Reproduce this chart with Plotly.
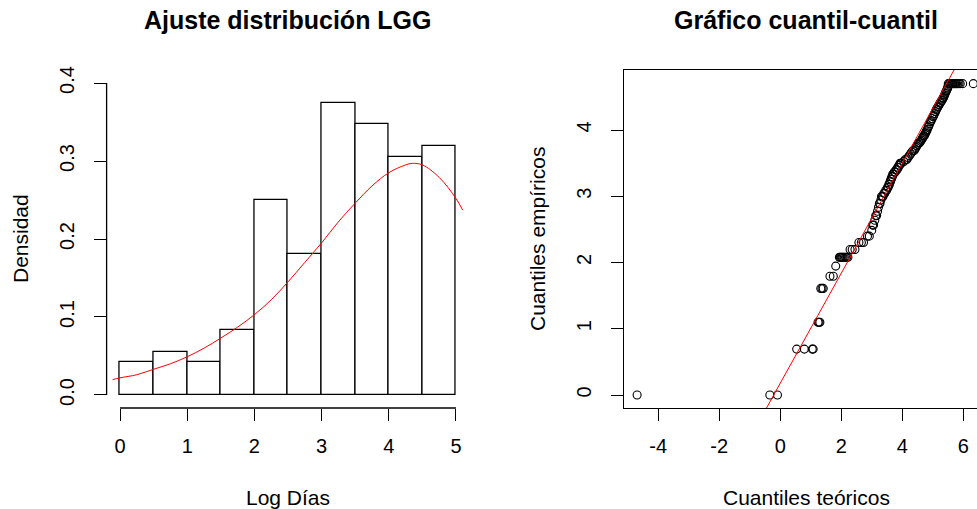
import plotly.graph_objects as go

# ---------------- data ----------------
# histogram (Log Días), bin edges and densities
bin_edges = [0.0, 0.5, 1.0, 1.5, 2.0, 2.5, 3.0, 3.5, 4.0, 4.5, 5.0]
densities = [0.0417, 0.0556, 0.0417, 0.0833, 0.25, 0.1806, 0.375, 0.3472, 0.3056, 0.3194]

# fitted LGG density curve
curve_x = [-0.11, 0.0, 0.25, 0.5, 0.75, 1.0, 1.25, 1.5, 1.75, 2.0, 2.25, 2.5, 2.75,
           3.0, 3.25, 3.5, 3.75, 4.0, 4.25, 4.35, 4.5, 4.75, 5.0, 5.1]
curve_y = [0.0197, 0.022, 0.026, 0.033, 0.040, 0.049, 0.060, 0.073, 0.087, 0.103, 0.122,
           0.145, 0.170, 0.195, 0.222, 0.246, 0.268, 0.285, 0.295, 0.297, 0.295, 0.279,
           0.252, 0.237]

# QQ plot: theoretical quantiles and empirical quantiles
qq_theo = [
    -4.69, -0.34, -0.09,
    0.54, 0.79, 1.05, 1.08,
    1.24, 1.27, 1.30,
    1.33, 1.37, 1.41,
    1.63, 1.74,
    1.82,
    1.94, 1.97, 2.00, 2.03, 2.06, 2.10, 2.14, 2.18, 2.22,
    2.29, 2.36, 2.45,
    2.58, 2.66, 2.73,
    2.86, 2.92,
    3.00,
    3.03, 3.06, 3.10, 3.13, 3.16, 3.19, 3.22, 3.25, 3.27, 3.30, 3.32, 3.35, 3.37,
    3.40, 3.43, 3.46, 3.49, 3.52, 3.54, 3.56, 3.58, 3.60, 3.61, 3.63, 3.64, 3.66, 3.67,
    3.69, 3.71, 3.74, 3.77, 3.80, 3.83, 3.85, 3.87, 3.89, 3.91, 3.93, 3.95, 3.97,
    4.05, 4.10, 4.15, 4.19, 4.23, 4.27, 4.31, 4.35, 4.39, 4.42, 4.45, 4.48, 4.51, 4.54,
    4.57, 4.60, 4.63, 4.66, 4.68, 4.70, 4.72, 4.74, 4.76, 4.78, 4.80,
    4.82, 4.85, 4.87, 4.90, 4.93, 4.95, 4.98, 5.01, 5.03, 5.06, 5.09, 5.11, 5.13, 5.16,
    5.18, 5.21, 5.24, 5.26, 5.29, 5.31, 5.33, 5.35,
    5.37, 5.39, 5.41, 5.43, 5.45, 5.47, 5.49, 5.50,
    5.51, 5.54, 5.57, 5.60, 5.63, 5.66, 5.69, 5.72, 5.75, 5.78, 5.82, 5.86, 5.90, 5.98, 6.33,
]
qq_emp = [
    0.0, 0.0, 0.0,
    0.693, 0.693, 0.693, 0.693,
    1.099, 1.099, 1.099,
    1.609, 1.609, 1.609,
    1.792, 1.792,
    1.946,
    2.079, 2.079, 2.079, 2.079, 2.079, 2.079, 2.079, 2.079, 2.079,
    2.197, 2.197, 2.197,
    2.303, 2.303, 2.303,
    2.398, 2.398,
    2.485,
    2.565, 2.565, 2.639, 2.708, 2.708, 2.773, 2.833, 2.890, 2.890, 2.944, 2.996, 2.996, 2.996,
    3.045, 3.045, 3.091, 3.091, 3.135, 3.135, 3.178, 3.178, 3.219, 3.219, 3.258, 3.258,
    3.296, 3.296, 3.332, 3.332, 3.367, 3.367, 3.401, 3.401, 3.434, 3.434, 3.466, 3.466,
    3.497, 3.497, 3.497,
    3.526, 3.555, 3.555, 3.584, 3.611, 3.638, 3.664, 3.689, 3.689, 3.714, 3.738, 3.761,
    3.784, 3.807, 3.807, 3.829, 3.850, 3.871, 3.892, 3.912, 3.912, 3.932, 3.951, 3.970, 3.989,
    4.007, 4.043, 4.060, 4.094, 4.127, 4.143, 4.174, 4.205, 4.220, 4.248, 4.277, 4.304,
    4.317, 4.344, 4.357, 4.382, 4.407, 4.419, 4.443, 4.454, 4.477, 4.489,
    4.511, 4.533, 4.554, 4.575, 4.595, 4.615, 4.635, 4.663,
    4.700, 4.700, 4.700, 4.700, 4.700, 4.700, 4.700, 4.700, 4.700, 4.700, 4.700, 4.700,
    4.700, 4.700, 4.700,
]
# reference line (qqline) intercept / slope
qq_intercept = 0.177
qq_slope = 0.83

x1_ticks = [0, 1, 2, 3, 4, 5]
y1_ticks = [0.0, 0.1, 0.2, 0.3, 0.4]
x2_ticks = [-4, -2, 0, 2, 4, 6]
y2_ticks = [0, 1, 2, 3, 4]

# ---------------- figure ----------------
W, H = 977, 509
T, B = 70, 101
FONT = "Liberation Sans, Arial, sans-serif"
black = "#000000"

mids = [(bin_edges[i] + bin_edges[i + 1]) / 2 for i in range(len(densities))]
widths = [bin_edges[i + 1] - bin_edges[i] for i in range(len(densities))]

fig = go.Figure()
fig.add_trace(go.Bar(x=mids, y=densities, width=widths,
                     marker=dict(color="white", line=dict(color=black, width=1.3)),
                     xaxis="x", yaxis="y", showlegend=False))
fig.add_trace(go.Scatter(x=curve_x, y=curve_y, mode="lines", line=dict(color="red", width=1, shape="spline"),
                         xaxis="x", yaxis="y", showlegend=False))

fig.add_trace(go.Scatter(x=qq_theo, y=qq_emp, mode="markers",
                         marker=dict(symbol="circle-open", size=8, color=black, line=dict(width=1.1, color=black)),
                         xaxis="x2", yaxis="y2", showlegend=False, cliponaxis=False))
lx = [-6.0, 7.0]
fig.add_trace(go.Scatter(x=lx, y=[qq_intercept + qq_slope * v for v in lx], mode="lines",
                         line=dict(color="red", width=1), xaxis="x2", yaxis="y2", showlegend=False))

def px2paper_x(px):
    return px / W

def py2paper_y(py):
    return (H - B - py) / (H - B - T)

tickfont = dict(family=FONT, size=20, color=black)
common_axis = dict(showgrid=False, zeroline=False, ticks="outside", ticklen=12, tickwidth=1.3,
                   tickcolor=black, tickfont=tickfont)

fig.update_layout(
    width=W, height=H, margin=dict(l=0, r=0, t=T, b=B),
    paper_bgcolor="white", plot_bgcolor="white",
    xaxis=dict(domain=[px2paper_x(106.6), px2paper_x(469.4)], range=[-0.2, 5.2],
               tickvals=x1_ticks, ticktext=[str(v) for v in x1_ticks], showline=False,
               ticklabelstandoff=8, anchor="y", **common_axis),
    yaxis=dict(domain=[0, 1], range=[-0.0167, 0.4167], tickvals=y1_ticks,
               ticktext=[f"{v:.1f}" for v in y1_ticks], tickangle=-90, showline=False,
               ticklabelstandoff=12, anchor="x", **common_axis),
    xaxis2=dict(domain=[px2paper_x(624.3), 1.0], range=[-5.11, 6.45], tickvals=x2_ticks,
                ticktext=[str(v) for v in x2_ticks], showline=True, mirror=True,
                linecolor=black, linewidth=1.3, ticklabelstandoff=8, anchor="y2", **common_axis),
    yaxis2=dict(domain=[0, 1], range=[-0.196, 4.906], tickvals=y2_ticks,
                ticktext=[str(v) for v in y2_ticks], tickangle=-90, showline=True, mirror=False,
                linecolor=black, linewidth=1.3, ticklabelstandoff=12, anchor="x2", **common_axis),
    bargap=0,
)

# R-style detached axis lines for the histogram panel
fig.add_shape(type="line", xref="x domain", yref="y", x0=0, x1=0, y0=0, y1=0.4,
              line=dict(color=black, width=1.3))
fig.add_shape(type="line", xref="x", yref="y domain", x0=0, x1=5, y0=0, y1=0,
              line=dict(color=black, width=1.3))

titlefont = dict(family=FONT, size=25, color=black)
labfont = dict(family=FONT, size=21, color=black)
ann = [
    dict(text="<b>Ajuste distribución LGG</b>", x=px2paper_x(288), y=py2paper_y(20), font=titlefont),
    dict(text="<b>Gráfico cuantil-cuantil</b>", x=px2paper_x(806), y=py2paper_y(20), font=titlefont),
    dict(text="Log Días", x=px2paper_x(288), y=py2paper_y(497), font=labfont),
    dict(text="Cuantiles teóricos", x=px2paper_x(806), y=py2paper_y(497), font=labfont),
    dict(text="Densidad", x=px2paper_x(20), y=py2paper_y(239), font=labfont, textangle=-90),
    dict(text="Cuantiles empíricos", x=px2paper_x(537), y=py2paper_y(239), font=labfont, textangle=-90),
]
for a in ann:
    fig.add_annotation(xref="paper", yref="paper", showarrow=False, xanchor="center", yanchor="middle", **a)

fig.write_html("out.html", config={"displayModeBar": False},
               post_script="document.body.style.margin='0px';document.body.style.overflow='hidden';")
